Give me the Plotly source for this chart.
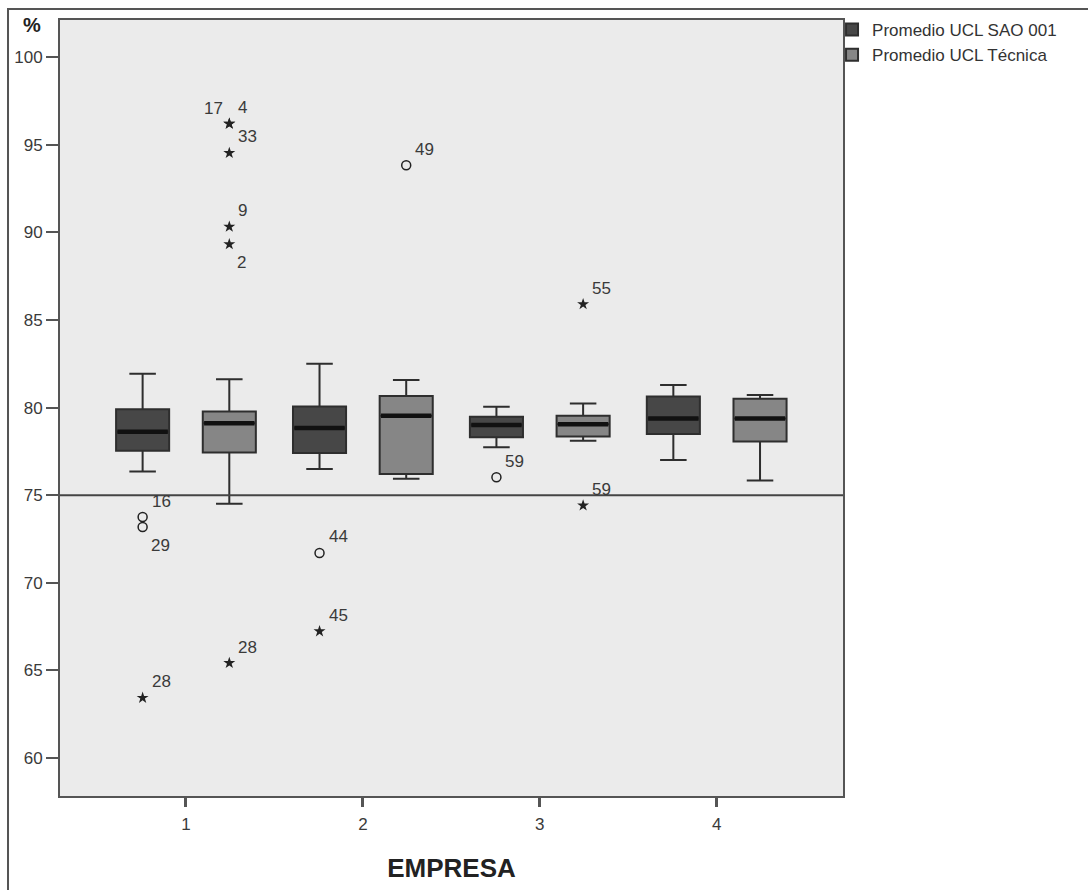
import plotly.graph_objects as go

# ---------------- data ----------------
empresas = [1, 2, 3, 4]
tick_labels = ["1", "2", "3", "4"]

sao_name = "Promedio UCL SAO 001"
sao_lower = [76.35, 76.50, 77.73, 77.00]
sao_q1 = [77.54, 77.41, 78.30, 78.49]
sao_median = [78.62, 78.83, 79.01, 79.38]
sao_q3 = [79.90, 80.06, 79.47, 80.63]
sao_upper = [81.93, 82.50, 80.04, 81.29]

tec_name = "Promedio UCL Técnica"
tec_lower = [74.51, 75.93, 78.10, 75.84]
tec_q1 = [77.44, 76.21, 78.35, 78.07]
tec_median = [79.11, 79.53, 79.05, 79.38]
tec_q3 = [79.77, 80.66, 79.53, 80.51]
tec_upper = [81.61, 81.57, 80.23, 80.72]

sao_out_group = [1, 1, 1, 2, 2, 3]
sao_out_value = [73.75, 73.18, 63.43, 71.70, 67.23, 76.02]
sao_out_label = ["16", "29", "28", "44", "45", "59"]
sao_out_kind = ["circle", "circle", "star", "circle", "star", "circle"]
sao_out_pos = ["ur", "dr", "ur", "ur", "ur", "ur"]

tec_out_group = [1, 1, 1, 1, 1, 1, 2, 3, 3]
tec_out_value = [96.20, 96.20, 94.53, 90.32, 89.32, 65.42, 93.83, 85.90, 74.41]
tec_out_label = ["17", "4", "33", "9", "2", "28", "49", "55", "59"]
tec_out_kind = ["star", "star", "star", "star", "star", "star", "circle", "star", "star"]
tec_out_pos = ["ul", "ur", "ur", "ur", "dr", "ur", "ur", "ur", "ur"]

reference_value = 75
y_ticks = [60, 65, 70, 75, 80, 85, 90, 95, 100]

# ---------------- style ----------------
FONT = "Arial, Liberation Sans, sans-serif"
TXT = "#3a3a3a"
AX = "#555555"
OFFSET = 0.245
BOXW = 0.30
series = [
    dict(name=sao_name, off=-OFFSET, fill="#474747", lo=sao_lower, q1=sao_q1, med=sao_median,
         q3=sao_q3, up=sao_upper, og=sao_out_group, ov=sao_out_value, ol=sao_out_label,
         ok=sao_out_kind, op=sao_out_pos),
    dict(name=tec_name, off=OFFSET, fill="#868686", lo=tec_lower, q1=tec_q1, med=tec_median,
         q3=tec_q3, up=tec_upper, og=tec_out_group, ov=tec_out_value, ol=tec_out_label,
         ok=tec_out_kind, op=tec_out_pos),
]

fig = go.Figure()
annotations = []
shift = {"ur": (7, 16, "left"), "dr": (6, -18, "left"), "ul": (-4, 15, "right")}

for s in series:
    xs = [e + s["off"] for e in empresas]
    fig.add_trace(go.Box(
        name=s["name"], x=xs, lowerfence=s["lo"], q1=s["q1"], median=s["med"],
        q3=s["q3"], upperfence=s["up"], width=BOXW, whiskerwidth=0.5,
        fillcolor=s["fill"], line=dict(color="#2e2e2e", width=2),
        boxpoints=False, hoverinfo="skip", showlegend=True,
    ))
    # thick black median lines
    fig.add_trace(go.Scatter(
        x=xs, y=s["med"], mode="markers", showlegend=False, hoverinfo="skip",
        marker=dict(symbol="line-ew", size=36, color="#111111",
                    line=dict(color="#111111", width=4.5)),
    ))
    # outliers
    for kind, sym, size, lw in (("star", "star", 9, 0), ("circle", "circle-open", 9, 1.5)):
        px = [g + s["off"] for g, k in zip(s["og"], s["ok"]) if k == kind]
        py = [v for v, k in zip(s["ov"], s["ok"]) if k == kind]
        if px:
            fig.add_trace(go.Scatter(
                x=px, y=py, mode="markers", showlegend=False, hoverinfo="skip",
                marker=dict(symbol=sym, size=size, color="#222222",
                            line=dict(color="#333333", width=lw)),
            ))
    for g, v, lab, pos in zip(s["og"], s["ov"], s["ol"], s["op"]):
        dx, dy, anchor = shift[pos]
        annotations.append(dict(
            x=g + s["off"], y=v, xref="x", yref="y", text=lab, showarrow=False,
            xanchor=anchor, yanchor="middle", xshift=dx, yshift=dy,
            font=dict(family=FONT, size=17, color=TXT),
        ))

annotations.append(dict(
    x=-0.036, y=0.994, xref="paper", yref="paper", text="<b>%</b>", showarrow=False,
    xanchor="center", yanchor="middle", font=dict(family=FONT, size=20, color="#222222"),
))

shapes = [
    dict(type="line", xref="paper", yref="y", x0=0, x1=1, y0=reference_value, y1=reference_value,
         line=dict(color="#444444", width=2)),
    dict(type="rect", xref="paper", yref="paper", x0=-0.0664, x1=1.45, y0=-0.4, y1=1.0141,
         line=dict(color=AX, width=2), fillcolor="rgba(0,0,0,0)"),
]

fig.update_layout(
    width=1088, height=890,
    margin=dict(l=60, r=245, t=20, b=90),
    paper_bgcolor="white", plot_bgcolor="#ebebeb",
    boxmode="overlay",
    font=dict(family=FONT, size=17, color=TXT),
    showlegend=True,
    legend=dict(x=0.986, y=1.0103, xanchor="left", yanchor="top", bgcolor="rgba(0,0,0,0)",
                font=dict(family=FONT, size=17, color="#333333"), itemwidth=30,
                tracegroupgap=0),
    annotations=annotations,
    shapes=shapes,
    xaxis=dict(
        range=[0.288, 4.714], tickmode="array", tickvals=empresas, ticktext=tick_labels,
        ticks="outside", ticklen=9, tickwidth=3, tickcolor=AX, ticklabelstandoff=3,
        showline=True, linecolor=AX, linewidth=2, mirror=True,
        showgrid=False, zeroline=False,
        title=dict(text="<b>EMPRESA</b>", font=dict(family=FONT, size=26, color="#222222"),
                   standoff=25),
    ),
    yaxis=dict(
        range=[57.83, 102.12], tickmode="array", tickvals=y_ticks,
        ticks="outside", ticklen=12, tickwidth=2, tickcolor=AX,
        showline=True, linecolor=AX, linewidth=2, mirror=True,
        showgrid=False, zeroline=False,
    ),
)

fig.write_html(
    "out.html",
    config={"displayModeBar": False},
    post_script="document.body.style.margin='0px';document.body.style.overflow='hidden';",
)
